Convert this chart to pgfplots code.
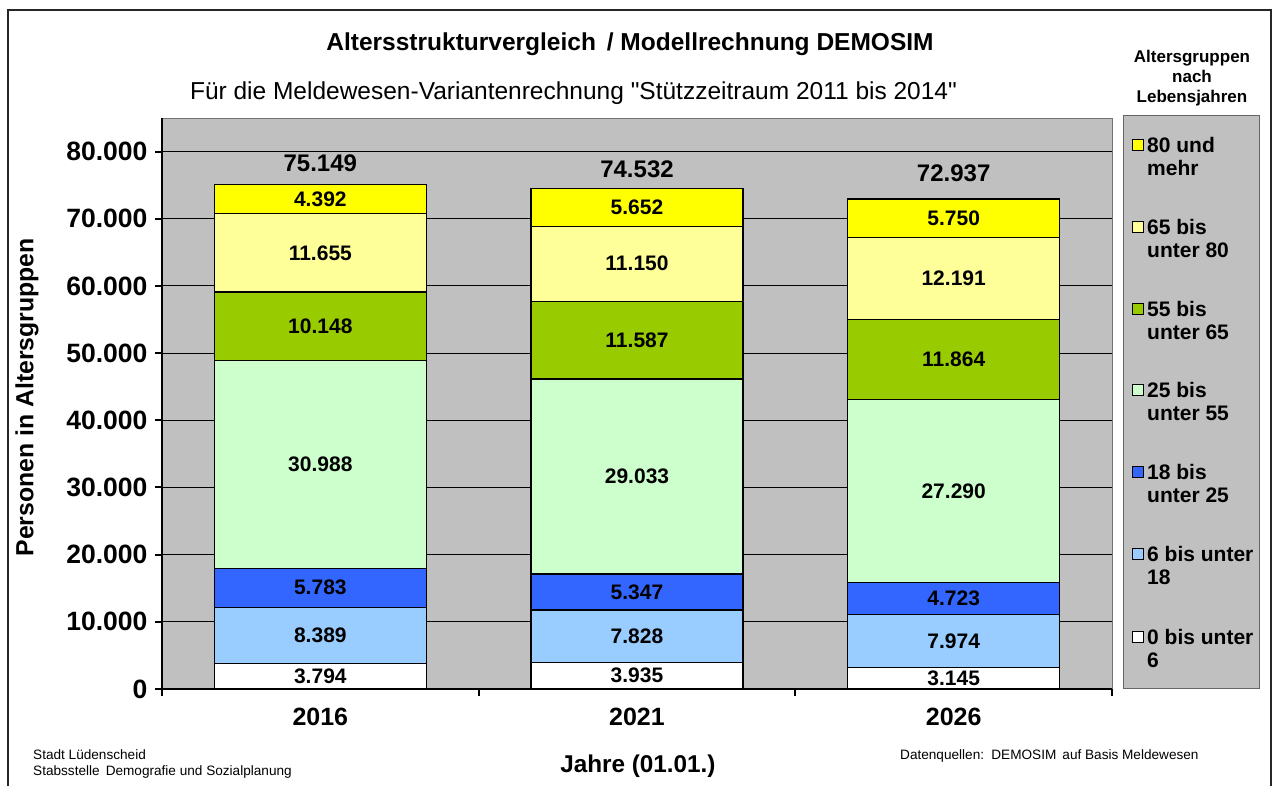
\documentclass[border=0pt]{standalone}
\usepackage{pgfplots}
\pgfplotsset{compat=1.18}
\usepackage{pgfplotstable}
\usepackage{fontspec}
\setmainfont{Liberation Sans}[Ligatures=TeXOff]
\definecolor{cA}{HTML}{FFFF00}
\definecolor{cB}{HTML}{FFFF99}
\definecolor{cC}{HTML}{99CC00}
\definecolor{cD}{HTML}{CCFFCC}
\definecolor{cE}{HTML}{3366FF}
\definecolor{cF}{HTML}{99CCFF}
\definecolor{cG}{HTML}{FFFFFF}
\definecolor{bg}{HTML}{C0C0C0}
\pgfplotstableread{
x c0 c6 c18 c25 c55 c65 c80
0 3794 8389 5783 30988 10148 11655 4392
1 3935 7828 5347 29033 11587 11150 5652
2 3145 7974 4723 27290 11864 12191 5750
}\data
\newcommand{\fs}[1]{\fontsize{#1}{#1}\selectfont}
\begin{document}
\begin{tikzpicture}[x=1pt,y=1pt]
\useasboundingbox (0,0) rectangle (1274,786);
\draw[line width=1.3pt,black!85] (8,-2)--(8,776)--(1271,776)--(1271,-2);
\begin{axis}[
  at={(162pt,97pt)}, anchor=south west,
  width=950pt, height=571pt, scale only axis,
  ybar stacked, bar width=212pt,
  xmin=-0.5, xmax=2.5, ymin=0, ymax=85000,
  axis x line*=bottom, axis y line*=left,
  axis line style={-, line width=2pt, black},
  axis background/.style={fill=bg, draw=black!55, line width=0.8pt},
  ytick={0,10000,...,80000},
  scaled y ticks=false,
  ymajorgrids, major grid style={black, line width=1pt},
  tick align=outside, major tick length=7pt,
  tick style={black, line width=2pt},
  xtick={-0.5,0.5,1.5,2.5}, xticklabels={},
  extra x ticks={0,1,2}, extra x tick labels={2016,2021,2026},
  extra x tick style={major tick length=0pt, tick style={draw=none},
     tick label style={anchor=base, yshift=-37pt, font=\bfseries\fs{25}}},
  yticklabel style={font=\bfseries\fs{26.5}, xshift=-4pt},
  /pgf/number format/fixed,
  /pgf/number format/1000 sep={.},
  /pgf/number format/assume math mode=true,
  ylabel={Personen in Altersgruppen},
  ylabel style={at={(axis description cs:-0.1421,0.511)}, anchor=center, font=\bfseries\fs{24.8}},
  xlabel={Jahre (01.01.)},
  xlabel style={at={(axis description cs:0.501,-0.1349)}, anchor=center, font=\bfseries\fs{24.3}},
]
\addplot[fill=cG, draw=black, line width=1.2pt] table[x=x,y=c0]{\data};
\addplot[fill=cF, draw=black, line width=1.2pt] table[x=x,y=c6]{\data};
\addplot[fill=cE, draw=black, line width=1.2pt] table[x=x,y=c18]{\data};
\addplot[fill=cD, draw=black, line width=1.2pt] table[x=x,y=c25]{\data};
\addplot[fill=cC, draw=black, line width=1.2pt] table[x=x,y=c55]{\data};
\addplot[fill=cB, draw=black, line width=1.2pt] table[x=x,y=c65]{\data};
\addplot[fill=cA, draw=black, line width=1.2pt] table[x=x,y=c80]{\data};
\end{axis}
\begin{axis}[
  at={(162pt,97pt)}, anchor=south west,
  width=950pt, height=571pt, scale only axis,
  xmin=-0.5, xmax=2.5, ymin=0, ymax=85000,
  hide axis, clip=false]
% segment labels
\addplot[draw=none, point meta=explicit symbolic,
  nodes near coords, nodes near coords style={anchor=center, font=\bfseries\fs{21}, text=black}]
coordinates {
(0,1897) [3.794] (0,7988.5) [8.389] (0,15074.5) [5.783] (0,33460) [30.988] (0,54028) [10.148] (0,64929.5) [11.655] (0,72953) [4.392]
(1,1967.5) [3.935] (1,7849) [7.828] (1,14436.5) [5.347] (1,31626.5) [29.033] (1,51936.5) [11.587] (1,63305) [11.150] (1,71706) [5.652]
(2,1572.5) [3.145] (2,7132) [7.974] (2,13480.5) [4.723] (2,29487) [27.290] (2,49064) [11.864] (2,61091.5) [12.191] (2,70062) [5.750]
};
% totals
\addplot[draw=none, point meta=explicit symbolic,
  nodes near coords, nodes near coords style={anchor=center, font=\bfseries\fs{24}, text=black}]
coordinates {(0,78200) [75.149] (1,77310) [74.532] (2,76720) [72.937]};
\end{axis}
% titles
\node[font=\bfseries\fs{24.5}] at (630,742) {Altersstrukturvergleich\, / Modellrechnung DEMOSIM};
\node[font=\fs{24.5}] at (573.5,693) {Für die Meldewesen-Variantenrechnung "Stützzeitraum 2011 bis 2014"};
% footers
\node[font=\fs{13.6}, anchor=base west, inner sep=0pt] at (33,26) {Stadt Lüdenscheid};
\node[font=\fs{13.6}, anchor=base west, inner sep=0pt] at (33,10) {Stabsstelle\, Demografie und Sozialplanung};
\node[font=\fs{13.6}, anchor=base west, inner sep=0pt] at (900,26) {Datenquellen:\, DEMOSIM\, auf Basis Meldewesen};
% legend
\node[font=\bfseries\fontsize{17}{20}\selectfont, align=center] at (1192,708) {Altersgruppen\\nach\\Lebensjahren};
\draw[fill=bg, draw=black!60, line width=1pt] (1123,97) rectangle (1259,670);
\foreach \yc/\col/\la/\lb in {145/cA/80 und/mehr, 227/cB/65 bis/unter 80, 309/cC/55 bis/unter 65, 390/cD/25 bis/unter 55, 472/cE/18 bis/unter 25, 554/cF/6 bis unter/18, 637/cG/0 bis unter/6}{
  \draw[fill=\col, draw=black, line width=1pt] (1132,786-\yc-5.5) rectangle (1143,786-\yc+5.5);
  \node[font=\bfseries\fs{21}, anchor=base west, inner sep=0pt] at (1147,786-\yc-7.5) {\la};
  \node[font=\bfseries\fs{21}, anchor=base west, inner sep=0pt] at (1147,786-\yc-23-7.5) {\lb};
}
\end{tikzpicture}
\end{document}
